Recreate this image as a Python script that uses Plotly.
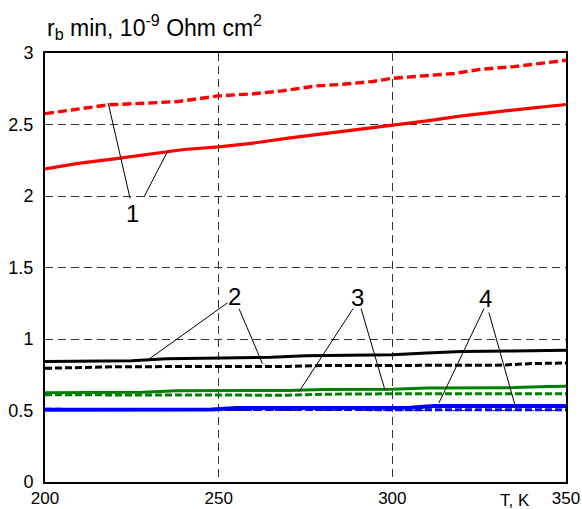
import plotly.graph_objects as go

# ---- data ----
T_red_dash = [200, 210, 218.5, 230, 238.4, 250, 260, 268.2, 278.1, 285, 294, 300, 310, 317.9, 325.8, 335, 350]
y_red_dash = [2.576, 2.61, 2.638, 2.65, 2.661, 2.70, 2.715, 2.735, 2.77, 2.78, 2.80, 2.823, 2.84, 2.857, 2.887, 2.905, 2.949]

T_red = [200, 210, 220, 230, 240, 250, 260, 270, 280, 290, 300, 310, 320, 330, 340, 350]
y_red = [2.19, 2.23, 2.26, 2.29, 2.325, 2.343, 2.37, 2.405, 2.435, 2.46, 2.493, 2.525, 2.56, 2.59, 2.615, 2.64]

T_blk = [200, 212, 225, 235, 250, 265, 275, 285, 300, 310, 320, 335, 350]
y_blk = [0.842, 0.845, 0.848, 0.862, 0.868, 0.872, 0.882, 0.887, 0.890, 0.902, 0.912, 0.916, 0.921]

T_blk_dash = [200, 210, 220, 250, 270, 280, 330, 340, 350]
y_blk_dash = [0.795, 0.800, 0.806, 0.808, 0.808, 0.815, 0.816, 0.828, 0.832]

T_grn = [200, 228, 238, 270, 280, 300, 310, 335, 345, 350]
y_grn = [0.625, 0.628, 0.638, 0.640, 0.646, 0.648, 0.657, 0.660, 0.667, 0.669]

T_grn_dash = [200, 270, 280, 300, 350]
y_grn_dash = [0.610, 0.607, 0.614, 0.617, 0.618]

T_blu = [200, 248, 255, 305, 312, 350]
y_blu = [0.505, 0.507, 0.518, 0.520, 0.531, 0.532]

T_blu_dash = [200, 350]
y_blu_dash = [0.508, 0.505]

x_ticks = [200, 250, 300, 350]
y_ticks = [0, 0.5, 1, 1.5, 2, 2.5, 3]
y_ticktext = ["0", "0.5", "1", "1.5", "2", "2.5", "3"]

# curve labels: (text, T, y)
lbl_text = ["1", "2", "3", "4"]
lbl_T = [225.2, 254.7, 289.9, 326.9]
lbl_y = [1.881, 1.299, 1.290, 1.283]
# leader lines: (T0, y0, T1, y1)
leader_T0 = [218.2, 228.5, 230.0, 255.9, 273.2, 291.0, 313.4, 327.8]
leader_y0 = [2.650, 1.993, 0.860, 1.210, 0.634, 1.213, 0.552, 1.185]
leader_T1 = [224.5, 235.3, 252.5, 262.6, 288.7, 297.9, 326.4, 335.6]
leader_y1 = [1.982, 2.313, 1.252, 0.828, 1.213, 0.641, 1.213, 0.513]

FONT = "Arial, Liberation Sans, sans-serif"

fig = go.Figure()

def add(T, y, color, width, dash):
    fig.add_trace(go.Scatter(x=T, y=y, mode="lines",
                             line=dict(color=color, width=width, dash=dash),
                             hoverinfo="skip", showlegend=False, cliponaxis=True))

add(T_red, y_red, "#ff0000", 3.2, "solid")
add(T_red_dash, y_red_dash, "#ff0000", 3.4, "9px,4px")
add(T_blk, y_blk, "#000000", 3, "solid")
add(T_blk_dash, y_blk_dash, "#000000", 3, "7px,3px")
add(T_grn, y_grn, "#008000", 3, "solid")
add(T_grn_dash, y_grn_dash, "#008000", 3, "7px,3px")
add(T_blu, y_blu, "#0000ff", 4, "solid")
add(T_blu_dash, y_blu_dash, "#0000ff", 3, "7px,3px")

for t0, v0, t1, v1 in zip(leader_T0, leader_y0, leader_T1, leader_y1):
    fig.add_shape(type="line", xref="x", yref="y", x0=t0, y0=v0, x1=t1, y1=v1,
                  line=dict(color="black", width=1))

for txt, t, v in zip(lbl_text, lbl_T, lbl_y):
    fig.add_annotation(x=t, y=v, xref="x", yref="y", text=txt, showarrow=False,
                       font=dict(family=FONT, size=24, color="black"),
                       xanchor="center", yanchor="middle")

fig.add_annotation(xref="paper", yref="paper", x=0, y=1, xshift=0, yshift=8,
                   xanchor="left", yanchor="bottom", showarrow=False,
                   text="r<sub>b</sub> min, 10<sup>-9</sup> Ohm cm<sup>2</sup>",
                   font=dict(family=FONT, size=23, color="black"))

fig.add_annotation(xref="paper", yref="paper", x=(515 - 45) / 521, y=0, yshift=-18,
                   xanchor="center", yanchor="middle", showarrow=False,
                   text="T, K", font=dict(family=FONT, size=17, color="black"))

fig.update_xaxes(range=[200, 350], tickvals=x_ticks, ticks="", showline=True,
                 linecolor="black", linewidth=2, mirror=True, automargin=False,
                 showgrid=True, gridcolor="#333333", gridwidth=1, griddash="8px,5px",
                 zeroline=False, ticklabelstandoff=0,
                 tickfont=dict(family=FONT, size=17, color="black"))
fig.update_yaxes(range=[0, 3], tickvals=y_ticks, ticktext=y_ticktext, ticks="",
                 showline=True, linecolor="black", linewidth=2, mirror=True,
                 automargin=False,
                 showgrid=True, gridcolor="#333333", gridwidth=1, griddash="8px,5px",
                 zeroline=False, ticklabelstandoff=6,
                 tickfont=dict(family=FONT, size=18, color="black"))

fig.update_layout(width=582, height=509, margin=dict(l=45, r=16, t=53, b=27, autoexpand=False),
                  plot_bgcolor="white", paper_bgcolor="white", showlegend=False)

fig.write_html("out.html", config={"displayModeBar": False},
               post_script="document.body.style.margin='0';document.body.style.overflow='hidden';")
